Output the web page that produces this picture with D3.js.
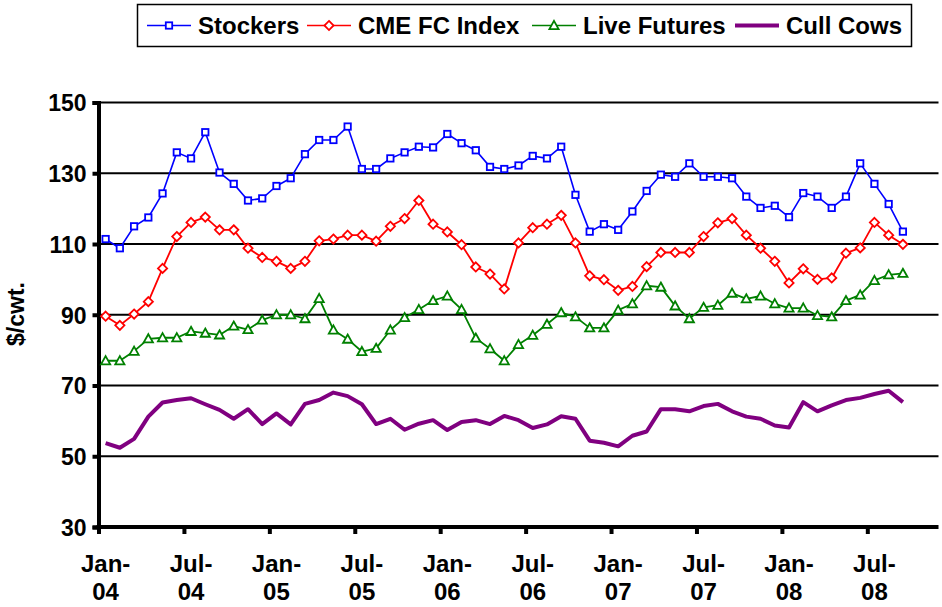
<!DOCTYPE html>
<html>
<head>
<meta charset="utf-8">
<script src="https://cdn.jsdelivr.net/npm/d3@7"></script>
<style>
  body { margin: 0; background: #fff; }
  text { font-family: "Liberation Sans", Arial, sans-serif; font-weight: bold; fill: #000; }
</style>
</head>
<body>
<script>
"use strict";
// monthly prices, Jan-04 .. Sep-08 ($/cwt.)
const stockers = [111.4,108.8,115.0,117.5,124.3,135.9,134.2,141.6,130.2,127.0,122.3,122.9,
  126.4,128.6,135.4,139.4,139.4,143.2,131.2,131.2,134.2,135.9,137.5,137.3,
  141.1,138.5,136.5,131.8,131.2,132.2,134.9,134.2,137.5,123.9,113.5,115.6,
  114.0,119.2,125.0,129.6,129.0,132.8,129.0,129.0,128.6,123.4,120.2,120.8,
  117.6,124.4,123.4,120.2,123.4,132.8,127.0,121.3,113.5]
const cmeIndex = [89.6,87.0,90.2,93.7,103.1,112.1,116.1,117.6,114.0,114.0,108.8,106.2,
  105.1,103.1,105.1,110.9,111.4,112.5,112.5,110.8,115.0,117.2,122.3,115.6,
  113.4,109.8,103.5,101.5,97.3,110.3,114.6,115.6,118.1,110.3,101.0,99.9,
  96.9,98.0,103.6,107.6,107.6,107.6,112.1,116.0,117.2,112.5,108.8,105.1,
  99.0,103.0,100.0,100.4,107.4,108.9,116.1,112.5,109.9]
const liveFutures = [77.0,77.0,79.7,83.2,83.5,83.5,85.3,84.8,84.3,86.8,85.8,88.5,
  90.0,90.0,88.9,94.6,85.7,83.1,79.6,80.5,85.7,89.2,91.5,94.0,
  95.3,91.5,83.4,80.4,77.0,81.6,84.2,87.3,90.6,89.4,86.3,86.3,
  91.3,93.1,98.2,97.8,92.5,88.9,92.1,92.7,96.1,94.5,95.3,93.1,
  91.9,91.9,89.8,89.4,94.0,95.6,99.7,101.3,101.7]
const cullCows = [53.7,52.4,54.9,61.2,65.2,65.9,66.4,64.7,63.1,60.6,63.3,59.1,
  62.1,59.0,64.8,65.9,68.0,67.0,64.7,59.1,60.6,57.5,59.2,60.2,
  57.4,59.7,60.2,59.1,61.4,60.2,58.0,59.0,61.3,60.6,54.4,53.8,
  52.8,55.8,57.0,63.3,63.3,62.7,64.2,64.8,62.7,61.2,60.6,58.7,
  58.1,65.3,62.7,64.4,65.9,66.5,67.6,68.5,65.3]

const seriesNames = ["Stockers", "CME FC Index", "Live Futures", "Cull Cows"]
const tickLabels = ["Jan-04","Jul-04","Jan-05","Jul-05","Jan-06","Jul-06","Jan-07","Jul-07","Jan-08","Jul-08"]
const yTicks = [30, 50, 70, 90, 110, 130, 150]
const nMonths = 59  // axis runs Jan-04 .. Nov-08

const width = 942, height = 607
const plot = { left: 98.5, right: 938.5, top: 102.5, bottom: 527 }

const series = [
  { name: seriesNames[0], values: stockers,    color: "#0000ff", lw: 1.6, marker: "square" },
  { name: seriesNames[1], values: cmeIndex,    color: "#ff0000", lw: 1.8, marker: "diamond" },
  { name: seriesNames[2], values: liveFutures, color: "#008000", lw: 1.8, marker: "triangle" },
  { name: seriesNames[3], values: cullCows,    color: "#800080", lw: 4,   marker: null }
]

const svg = d3.select("body").append("svg")
  .attr("width", width)
  .attr("height", height)

const x = d3.scaleBand()
  .domain(d3.range(nMonths))
  .range([plot.left, plot.right])
  .padding(0)
const xEdge = d3.scaleLinear().domain([0, nMonths]).range([plot.left, plot.right])
const y = d3.scaleLinear().domain([30, 150]).range([plot.bottom, plot.top])
const cx = i => x(i) + x.bandwidth() / 2

// gridlines
svg.append("g")
  .selectAll("line")
  .data(yTicks.slice(1))
  .join("line")
    .attr("x1", plot.left).attr("x2", plot.right)
    .attr("y1", d => y(d)).attr("y2", d => y(d))
    .attr("stroke", "#000").attr("stroke-width", 2)

// y axis
const yAxis = svg.append("g")
  .attr("transform", `translate(${plot.left},0)`)
  .call(d3.axisLeft(y).tickValues(yTicks).tickSize(6).tickPadding(6))
yAxis.select(".domain").attr("stroke-width", 4)
yAxis.selectAll(".tick line").attr("stroke-width", 4)
yAxis.selectAll(".tick text")
  .style("font-size", "23px")
  .style("font-family", "Liberation Sans, Arial, sans-serif")
  .style("font-weight", "bold")
  .attr("dy", "0.36em")

// x axis tick marks (between categories)
const xTicks = svg.append("g")
  .attr("transform", `translate(0,${plot.bottom})`)
  .call(d3.axisBottom(xEdge).tickValues(d3.range(0, nMonths, 6)).tickSize(7).tickFormat(""))
xTicks.select(".domain").attr("stroke-width", 4).attr("d", `M${plot.left - 2},0H${plot.right}`)
xTicks.selectAll(".tick line").attr("stroke-width", 4)

// x axis labels, centred on the month
const xLabels = svg.append("g")
  .attr("transform", `translate(0,${plot.bottom})`)
  .call(d3.axisBottom(x).tickValues(d3.range(0, nMonths, 6)).tickSize(0)
    .tickFormat(i => tickLabels[i / 6]))
xLabels.select(".domain").remove()
xLabels.selectAll(".tick text").each(function(d) {
  const t = d3.select(this)
  const parts = tickLabels[d / 6].split("-")
  t.text(null)
    .attr("y", 0).attr("dy", null)
    .style("font-size", "24px")
    .style("font-family", "Liberation Sans, Arial, sans-serif")
    .style("font-weight", "bold")
  t.append("tspan").attr("x", 0).attr("y", 45).text(parts[0] + "-")
  t.append("tspan").attr("x", 0).attr("y", 73).text(parts[1])
})

// y title
svg.append("text")
  .attr("transform", "translate(24,314) rotate(-90)")
  .attr("text-anchor", "middle")
  .attr("font-size", 23)
  .text("$/cwt.")

function drawMarker(g, type, color, px, py) {
  if (type === "square") {
    g.append("rect").attr("x", px - 3.2).attr("y", py - 3.2).attr("width", 6.4).attr("height", 6.4)
      .attr("fill", "#fff").attr("stroke", color).attr("stroke-width", 1.8)
  } else if (type === "diamond") {
    g.append("path").attr("d", `M${px},${py - 4.6}L${px + 4.6},${py}L${px},${py + 4.6}L${px - 4.6},${py}Z`)
      .attr("fill", "#fff").attr("stroke", color).attr("stroke-width", 1.8)
  } else if (type === "triangle") {
    g.append("path").attr("d", `M${px},${py - 4.6}L${px + 4.6},${py + 3.6}L${px - 4.6},${py + 3.6}Z`)
      .attr("fill", "#fff").attr("stroke", color).attr("stroke-width", 1.8)
  }
}

const line = d3.line().x((d, i) => cx(i)).y(d => y(d))

series.slice().reverse().forEach(s => {
  const g = svg.append("g")
  g.append("path")
    .attr("d", line(s.values))
    .attr("fill", "none")
    .attr("stroke", s.color)
    .attr("stroke-width", s.lw)
    .attr("stroke-linejoin", "round")
  if (s.marker) {
    s.values.forEach((v, i) => drawMarker(g, s.marker, s.color, cx(i), y(v)))
  }
})

// legend
const legendPos = [147, 307, 532, 735]
const legend = svg.append("g")
legend.append("rect")
  .attr("x", 137.5).attr("y", 4.5).attr("width", 774).attr("height", 42)
  .attr("fill", "#fff").attr("stroke", "#000").attr("stroke-width", 1.5)
series.forEach((s, k) => {
  const lx = legendPos[k], ly = 25.5
  legend.append("line")
    .attr("x1", lx).attr("x2", lx + 44).attr("y1", ly).attr("y2", ly)
    .attr("stroke", s.color).attr("stroke-width", s.marker ? 1.6 : 4)
  if (s.marker) drawMarker(legend, s.marker, s.color, lx + 22, ly)
  legend.append("text")
    .attr("x", lx + 51).attr("y", ly + 8.5)
    .attr("font-size", 24)
    .text(s.name)
})
</script>
</body>
</html>
